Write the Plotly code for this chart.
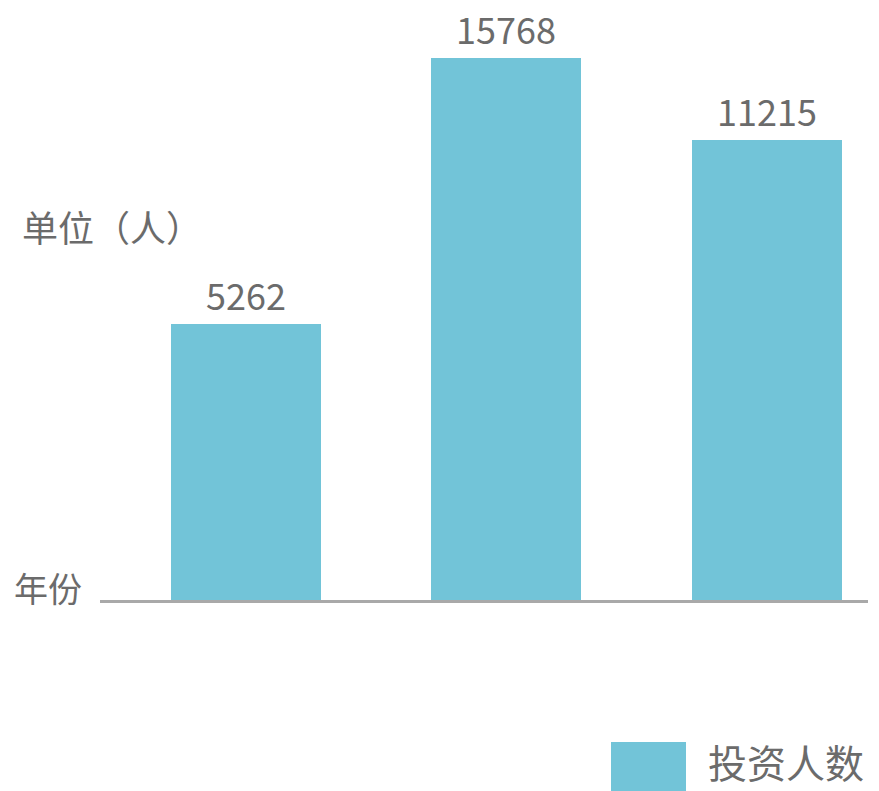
import math
import plotly.graph_objects as go

series_name = "投资人数"
values = [5262, 15768, 11215]
y_unit_label = "单位（人）"
x_axis_label = "年份"

bar_color = "#72C4D8"
text_color = "#6b6b6b"
font_family = "Noto Sans CJK SC, Noto Sans, sans-serif"

W, H = 879, 791
l, r, t, b = 100, 11, 20, 191
pw, ph = W - l - r, H - t - b


def px_to_paper(px, py):
    return (px - l) / pw, (H - b - py) / ph


xs = list(range(len(values)))

fig = go.Figure()
fig.add_trace(go.Bar(
    x=xs, y=values, name=series_name,
    marker=dict(color=bar_color, line=dict(width=0)),
    width=0.576, showlegend=False,
))

anns = []
for x, v in zip(xs, values):
    anns.append(go.layout.Annotation(
        x=x, y=math.log10(v), xref="x", yref="y",
        text=str(v), showarrow=False, yanchor="bottom", yshift=2,
        font=dict(family=font_family, size=36, color=text_color),
    ))

ux, uy = px_to_paper(20, 226)
anns.append(go.layout.Annotation(
    x=ux, y=uy, xref="paper", yref="paper", text=y_unit_label,
    showarrow=False, xanchor="left", yanchor="middle",
    font=dict(family=font_family, size=36, color=text_color)))
ax_, ay_ = px_to_paper(12, 587)
anns.append(go.layout.Annotation(
    x=ax_, y=ay_, xref="paper", yref="paper", text=x_axis_label,
    showarrow=False, xanchor="left", yanchor="middle",
    font=dict(family=font_family, size=34, color=text_color)))
lx, ly = px_to_paper(706, 761)
anns.append(go.layout.Annotation(
    x=lx, y=ly, xref="paper", yref="paper", text=series_name,
    showarrow=False, xanchor="left", yanchor="middle",
    font=dict(family=font_family, size=39, color=text_color)))

fig.update_layout(
    width=W, height=H,
    margin=dict(l=l, r=r, t=t, b=b),
    paper_bgcolor="white", plot_bgcolor="white",
    bargap=0,
    xaxis=dict(range=[-0.5605, 2.388], showticklabels=False, showgrid=False,
               zeroline=False, showline=True, linecolor="#a9a9a9", linewidth=3,
               ticks=""),
    yaxis=dict(type="log", range=[3.2256, 3.2256 + 580 / 557.6], visible=False,
               showgrid=False),
    annotations=anns,
)

sx0, sy0 = px_to_paper(611, 742)
sx1, sy1 = px_to_paper(686, 795)
fig.add_shape(type="rect", xref="paper", yref="paper",
              x0=sx0, x1=sx1, y0=sy1, y1=sy0,
              fillcolor=bar_color, line=dict(width=0))

fig.write_html("out.html", config={"displayModeBar": False},
               post_script="document.body.style.margin='0';document.body.style.overflow='hidden';")
